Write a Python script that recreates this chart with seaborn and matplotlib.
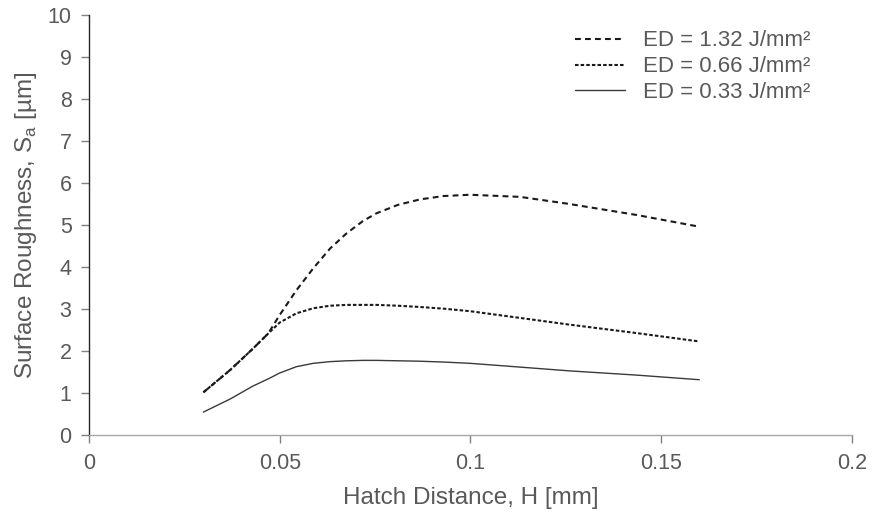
import numpy as np
import pandas as pd
import seaborn as sns
import matplotlib.pyplot as plt

# Values (hatch distance in mm, Sa in um)
hatch = [0.030, 0.037, 0.043, 0.047, 0.050, 0.0544, 0.0588, 0.0632, 0.0675,
         0.0719, 0.0754, 0.081, 0.0868, 0.093, 0.0999, 0.113, 0.126, 0.1435, 0.160]
sa_132 = [1.02, 1.55, 2.06, 2.42, 2.86, 3.45, 3.97, 4.44, 4.80,
          5.10, 5.28, 5.48, 5.61, 5.69, 5.72, 5.67, 5.50, 5.24, 4.96]
sa_066 = [1.02, 1.55, 2.06, 2.42, 2.68, 2.90, 3.02, 3.08, 3.10,
          3.10, 3.10, 3.08, 3.05, 3.01, 2.95, 2.79, 2.63, 2.43, 2.23]
sa_033 = [0.55, 0.86, 1.17, 1.34, 1.48, 1.63, 1.71, 1.75, 1.77,
          1.78, 1.78, 1.77, 1.76, 1.74, 1.71, 1.62, 1.53, 1.43, 1.32]
labels = ["ED = 1.32 J/mm²", "ED = 0.66 J/mm²", "ED = 0.33 J/mm²"]

df = pd.DataFrame({"H": hatch, labels[0]: sa_132, labels[1]: sa_066, labels[2]: sa_033})

sns.set_style("ticks")
plt.rcParams["font.family"] = ["Liberation Sans", "DejaVu Sans"]
plt.rcParams["mathtext.fontset"] = "custom"
plt.rcParams["mathtext.rm"] = "Liberation Sans"

text_grey = "#595959"

fig = plt.figure(figsize=(8.72, 5.12), dpi=100)
ax = fig.add_axes([0.102, 0.150, 0.875, 0.821])

sns.lineplot(data=df, x="H", y=labels[0], ax=ax, color="#1a1a1a", linewidth=1.5,
             linestyle=(0, (2.8, 2.0)), label=labels[0])
sns.lineplot(data=df, x="H", y=labels[1], ax=ax, color="#1a1a1a", linewidth=1.5,
             linestyle=(0, (1.7, 1.0)), label=labels[1])
sns.lineplot(data=df, x="H", y=labels[2], ax=ax, color="#3a3a3a", linewidth=1.0,
             linestyle="-", label=labels[2])

ax.set_xlim(0, 0.2)
ax.set_ylim(0, 10)
ax.set_xticks([0, 0.05, 0.1, 0.15, 0.2])
ax.set_xticklabels(["0", "0.05", "0.1", "0.15", "0.2"])
ax.set_yticks(range(0, 11))

ax.set_xlabel("Hatch Distance, H [mm]", fontsize=17.5, color=text_grey, labelpad=10)
ax.set_ylabel("Surface Roughness, S$_\\mathrm{a}$ [µm]", fontsize=17.5, color=text_grey, labelpad=6)
ax.tick_params(axis="both", labelsize=15.5, labelcolor=text_grey, color="#808080",
               length=5.5, width=1)
ax.tick_params(axis="y", pad=7)
ax.tick_params(axis="x", pad=7)

for side in ["top", "right"]:
    ax.spines[side].set_visible(False)
ax.spines["left"].set_color("#262626")
ax.spines["bottom"].set_color("#a6a6a6")
ax.spines["left"].set_linewidth(1)
ax.spines["bottom"].set_linewidth(1)

leg = ax.legend(loc="upper left", bbox_to_anchor=(0.637, 0.963), frameon=False,
                fontsize=16, handlelength=2.25, handletextpad=0.8,
                labelspacing=0.22, borderaxespad=0, borderpad=0)
for t in leg.get_texts():
    t.set_color(text_grey)

fig.savefig("out.png", dpi=100)
